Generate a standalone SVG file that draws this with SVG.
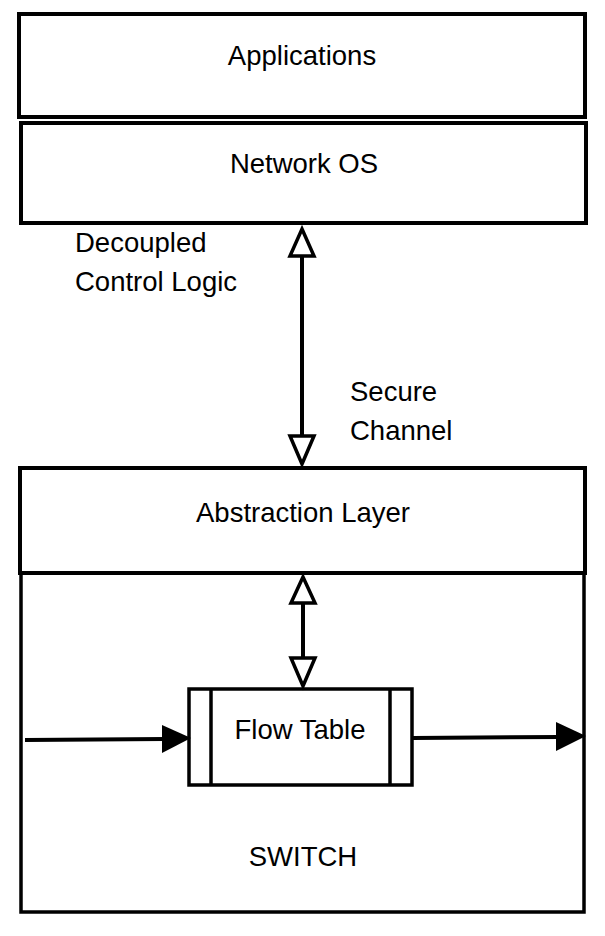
<svg xmlns="http://www.w3.org/2000/svg" width="605" height="936" viewBox="0 0 605 936">
<defs>
<style>
.box{fill:#fff;stroke:#000;stroke-width:4}
.thin{fill:none;stroke:#000;stroke-width:3.5}
.line{fill:none;stroke:#000;stroke-width:4}
.hollow{fill:#fff;stroke:#000;stroke-width:3.5;stroke-linejoin:miter}
text{font-family:"Liberation Sans",Arial,sans-serif;font-size:27.5px;fill:#000}
.c{text-anchor:middle}
</style>
</defs>
<rect width="605" height="936" fill="#fff"/>
<g id="switch">
<rect class="thin" x="21" y="468" width="563" height="444"/>
<text class="c" x="303" y="866">SWITCH</text>
</g>
<g id="applications">
<rect class="box" x="19" y="14" width="566" height="103"/>
<text class="c" x="302" y="65">Applications</text>
</g>
<g id="network-os">
<rect class="box" x="21" y="123" width="565" height="100"/>
<text class="c" x="304" y="173">Network OS</text>
</g>
<g id="abstraction-layer">
<rect class="box" x="20" y="468" width="565" height="105"/>
<text class="c" x="303" y="522">Abstraction Layer</text>
</g>
<g id="flow-table">
<rect class="thin" x="189" y="689" width="223" height="96"/>
<line class="thin" x1="211" y1="689" x2="211" y2="785"/>
<line class="thin" x1="390" y1="689" x2="390" y2="785"/>
<text class="c" x="300" y="739">Flow Table</text>
</g>
<g id="labels">
<text x="75" y="252">Decoupled</text>
<text x="75" y="291">Control Logic</text>
<text x="350" y="401">Secure</text>
<text x="350" y="440">Channel</text>
</g>
<g id="connectors">
<line class="line" x1="302" y1="256" x2="302" y2="436"/>
<polygon class="hollow" points="302,229 314,256 290,256"/>
<polygon class="hollow" points="302,464 314,436 290,436"/>
<line class="line" x1="303" y1="603" x2="303" y2="658"/>
<polygon class="hollow" points="303,577 315,603 291,603"/>
<polygon class="hollow" points="303,686 315,658 291,658"/>
<line class="line" x1="25" y1="740" x2="165" y2="739"/>
<polygon points="191,738 162,725 162,753" fill="#000"/>
<line class="line" x1="413" y1="738" x2="560" y2="737"/>
<polygon points="586,736 556,722 556,751" fill="#000"/>
</g>
</svg>
